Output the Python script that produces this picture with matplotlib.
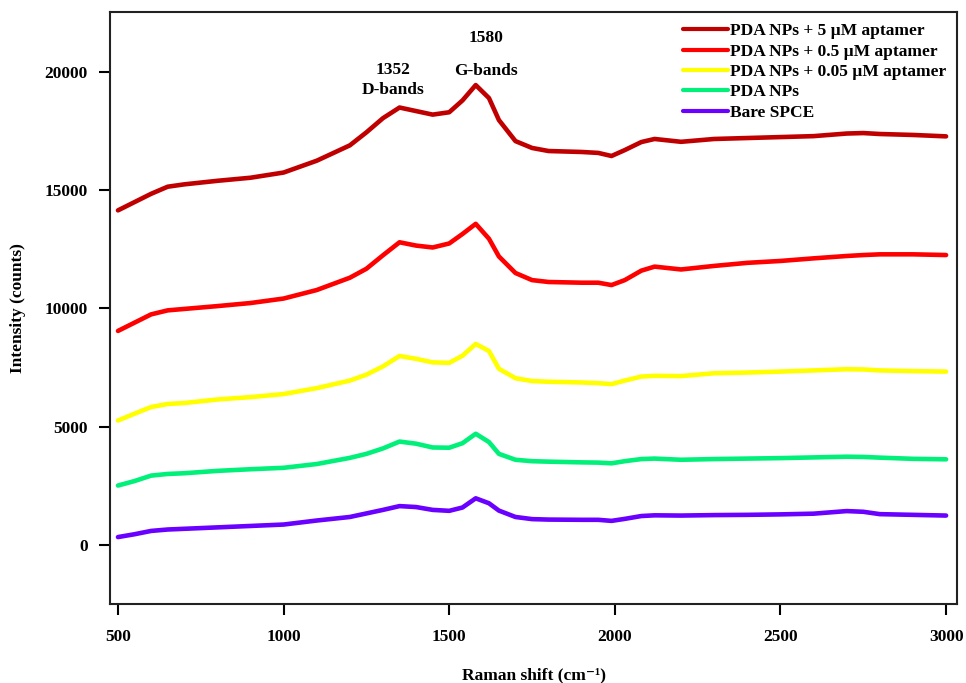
import matplotlib
matplotlib.use("Agg")
import matplotlib.pyplot as plt

plt.rcParams["font.family"] = ["Liberation Serif", "DejaVu Serif"]
plt.rcParams["font.weight"] = "bold"

# Raman shift grid (cm-1) shared by all spectra
shift = [500, 550, 600, 650, 700, 800, 900, 1000, 1100, 1200, 1250, 1300,
         1350, 1400, 1450, 1500, 1540, 1580, 1620, 1650, 1700, 1750, 1800,
         1900, 1950, 1990, 2030, 2080, 2120, 2200, 2300, 2400, 2500, 2600,
         2700, 2750, 2800, 2900, 3000]

apt_5 = [14150, 14500, 14850, 15150, 15250, 15400, 15530, 15750, 16250, 16900,
         17450, 18050, 18500, 18350, 18200, 18300, 18800, 19450, 18900, 17970,
         17080, 16790, 16660, 16620, 16580, 16450, 16700, 17040, 17170, 17050,
         17170, 17210, 17250, 17290, 17400, 17420, 17380, 17340, 17280]

apt_05 = [9050, 9400, 9750, 9920, 9980, 10100, 10230, 10420, 10780, 11300,
          11680, 12250, 12800, 12660, 12580, 12750, 13150, 13580, 12950, 12200,
          11500, 11200, 11120, 11090, 11090, 10990, 11200, 11600, 11770, 11650,
          11800, 11930, 12010, 12120, 12220, 12260, 12290, 12290, 12260]

apt_005 = [5260, 5550, 5830, 5960, 6000, 6150, 6250, 6380, 6630, 6950,
           7200, 7550, 7990, 7870, 7720, 7700, 8000, 8500, 8200, 7450,
           7050, 6930, 6900, 6870, 6840, 6800, 6950, 7120, 7150, 7140,
           7260, 7290, 7330, 7380, 7430, 7420, 7380, 7350, 7330]

pda = [2510, 2700, 2930, 3000, 3030, 3130, 3200, 3260, 3420, 3680,
       3850, 4080, 4370, 4280, 4120, 4110, 4300, 4700, 4350, 3850,
       3600, 3540, 3520, 3490, 3480, 3450, 3540, 3630, 3650, 3600,
       3630, 3650, 3670, 3700, 3730, 3720, 3690, 3640, 3620]

bare = [330, 450, 590, 650, 680, 740, 800, 860, 1030, 1180,
        1330, 1480, 1640, 1600, 1480, 1440, 1580, 1970, 1760, 1450,
        1180, 1090, 1070, 1060, 1060, 1015, 1100, 1220, 1250, 1240,
        1260, 1270, 1290, 1320, 1430, 1400, 1300, 1270, 1240]

labels = ["PDA NPs + 5 \u00b5M aptamer", "PDA NPs + 0.5 \u00b5M aptamer",
          "PDA NPs + 0.05 \u00b5M aptamer", "PDA NPs", "Bare SPCE"]
colors = ["#C00000", "#FF0000", "#FFFF00", "#00F07A", "#6A00FF"]
series = [apt_5, apt_05, apt_005, pda, bare]

fig = plt.figure(figsize=(9.66, 6.83), dpi=100)
ax = fig.add_axes([0.1139, 0.1157, 0.8768, 0.8667])

for y, c, lab in zip(series, colors, labels):
    ax.plot(shift, y, color=c, lw=3.3, label=lab,
            solid_joinstyle="round", solid_capstyle="round")

# band annotations
ann = dict(ha="center", va="center", fontsize=12.5, fontweight="bold")
ax.text(1330, 20100, "1352", **ann)
ax.text(1330, 19250, "D-bands", **ann)
ax.text(1611, 21450, "1580", **ann)
ax.text(1611, 20050, "G-bands", **ann)

ax.set_xlim(476, 3033)
ax.set_ylim(-2500, 22540)
ax.set_xticks([500, 1000, 1500, 2000, 2500, 3000])
ax.set_yticks([0, 5000, 10000, 15000, 20000])
ax.tick_params(axis="both", direction="out", length=8, width=1.5,
               labelsize=12.5, pad=8)
ax.tick_params(axis="x", pad=10)
for lbl in ax.get_xticklabels() + ax.get_yticklabels():
    lbl.set_fontweight("bold")
for sp in ax.spines.values():
    sp.set_linewidth(1.5)
    sp.set_color("#222222")

ax.set_xlabel("Raman shift (cm\u207b\u00b9)", fontsize=12.5, fontweight="bold", va="center")
ax.set_ylabel("Intensity (counts)", fontsize=12.5, fontweight="bold", va="center")
ax.xaxis.set_label_coords(0.5, -0.12)
ax.yaxis.set_label_coords(-0.109, 0.5)

leg = fig.legend(loc="upper left", bbox_to_anchor=(0.707, 0.966), frameon=False,
                 fontsize=12.5, handlelength=2.6, handletextpad=0.1,
                 labelspacing=0.24, borderpad=0, borderaxespad=0)
for line in leg.get_lines():
    line.set_linewidth(3)
for t in leg.get_texts():
    t.set_fontweight("bold")

fig.savefig("out.png", dpi=100)
